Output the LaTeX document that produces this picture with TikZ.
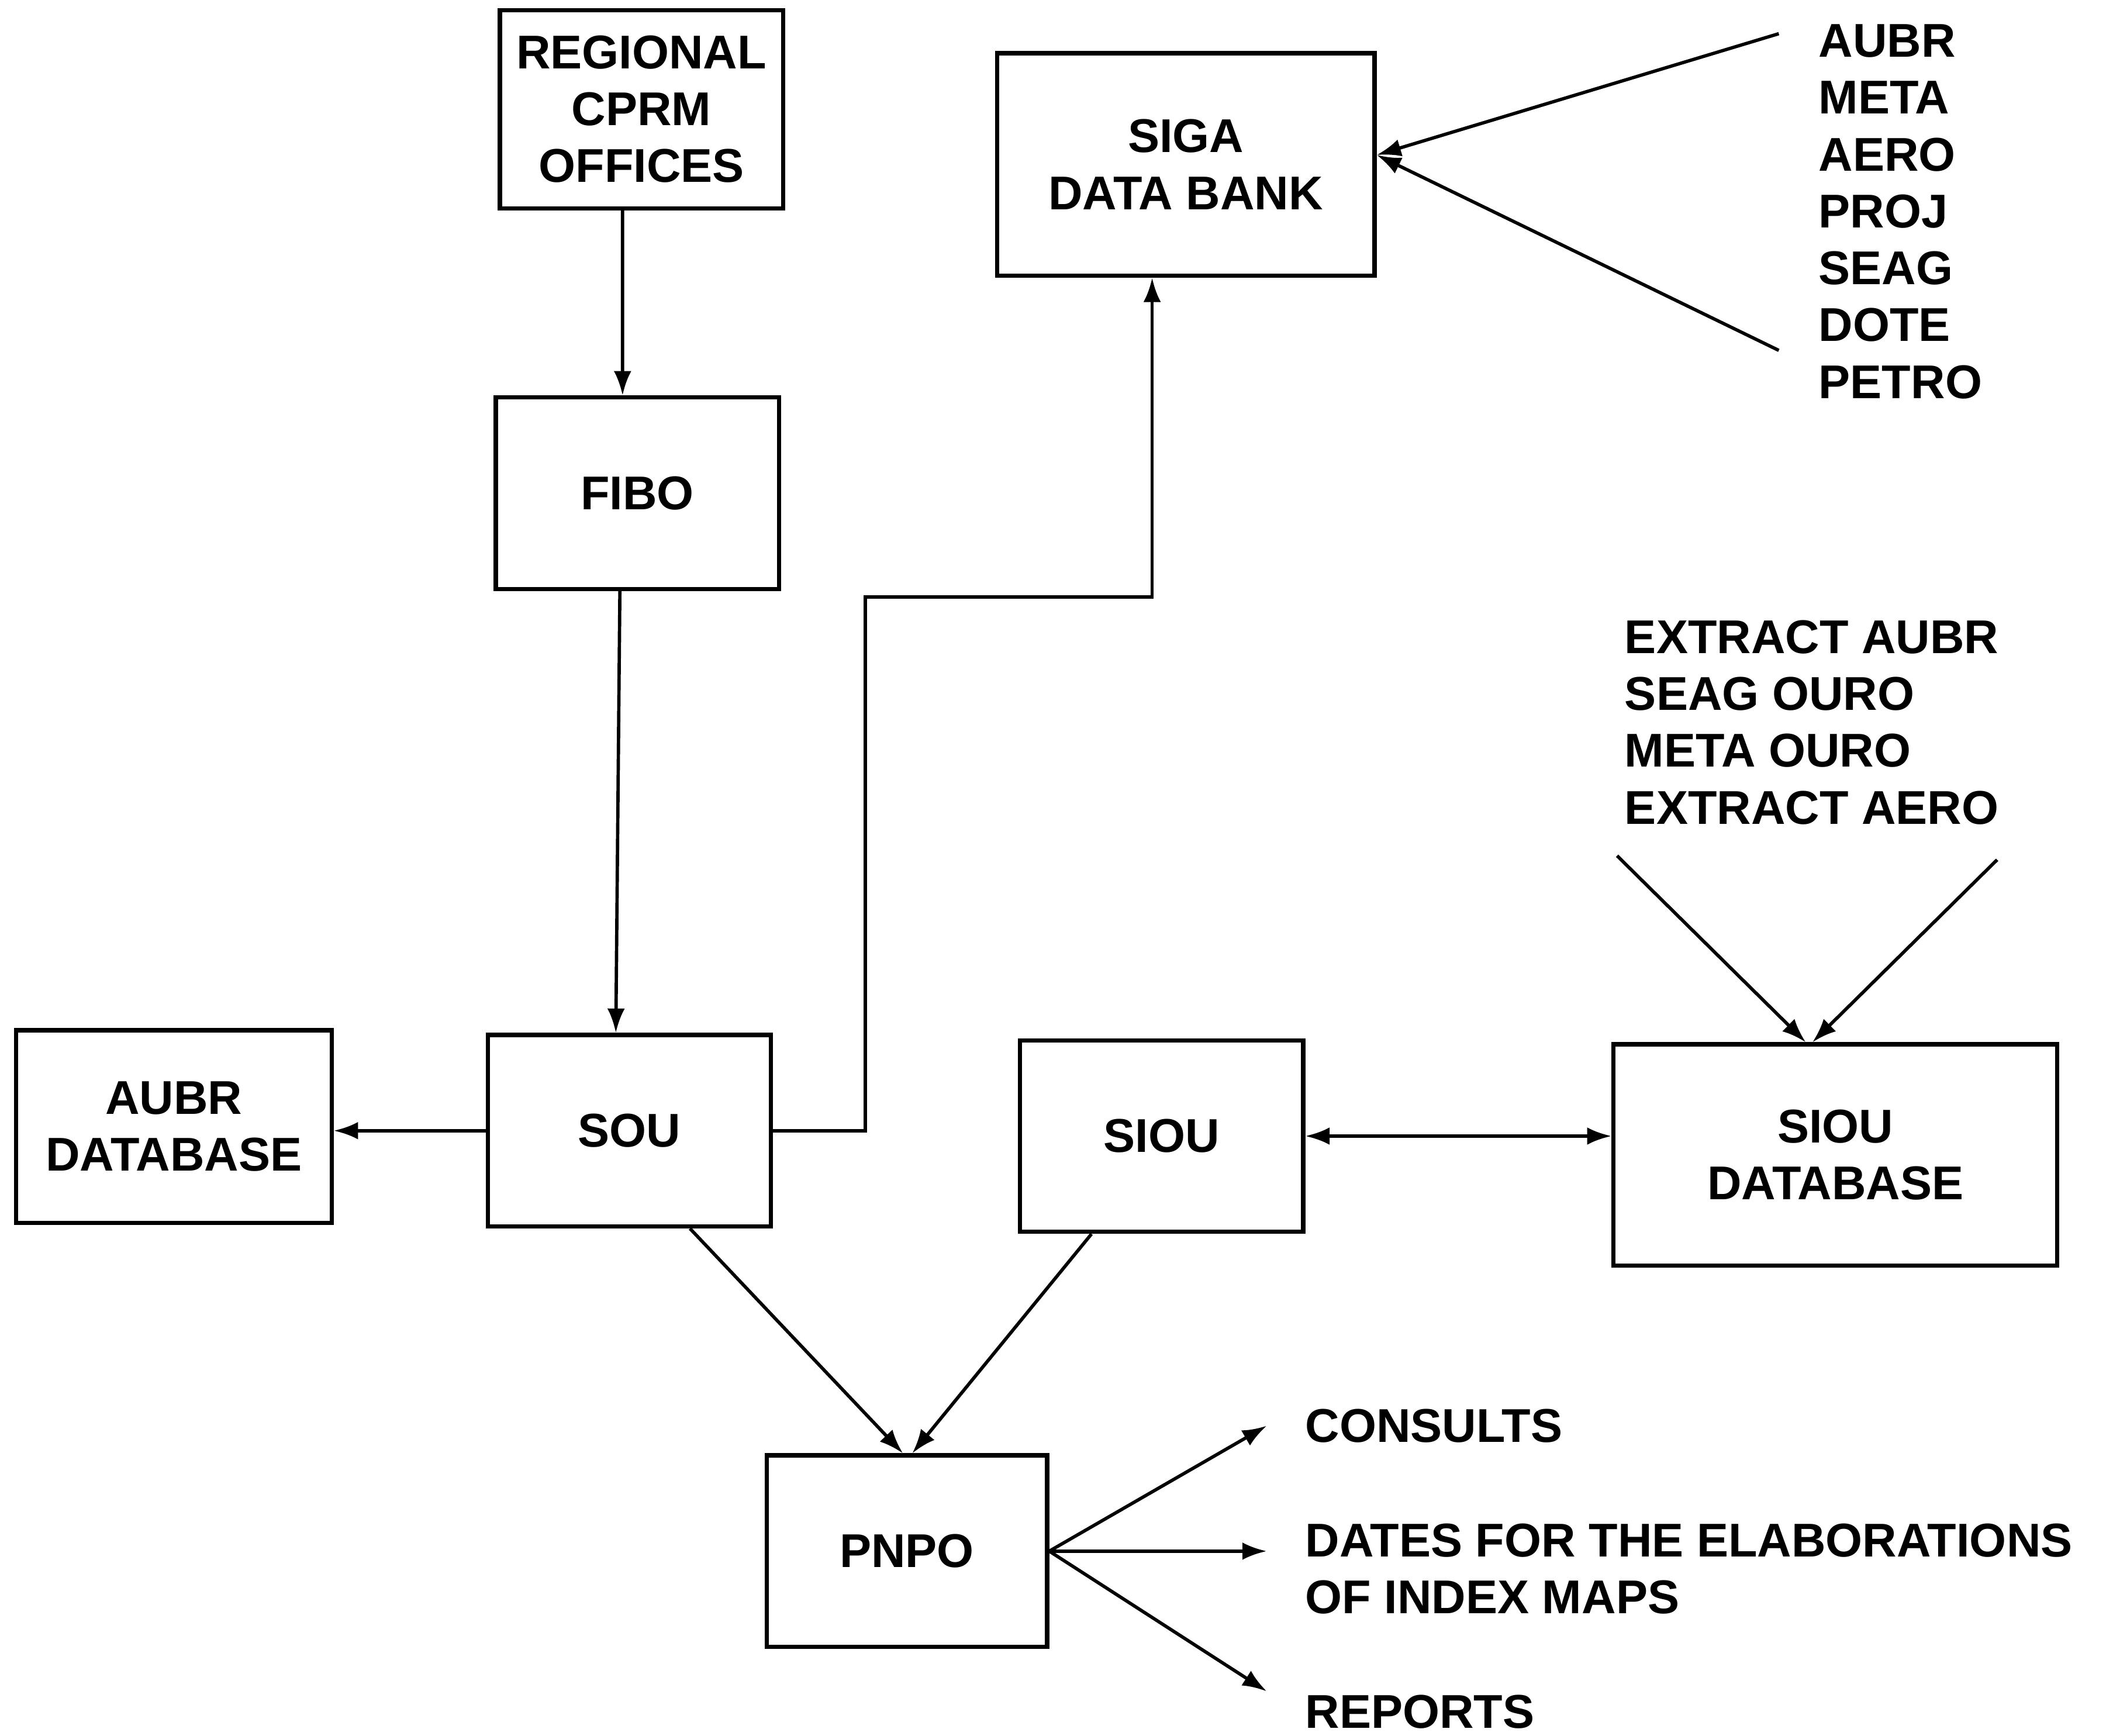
\documentclass[tikz,border=0pt]{standalone}
\usepackage{fontspec}
\setmainfont{Liberation Sans}
\usetikzlibrary{arrows.meta, positioning, calc}

\begin{document}
\begin{tikzpicture}[
    x=0.01cm, y=-0.01cm,
    >={Latex[length=1.8mm, width=1.3mm]},
    font=\bfseries\fontsize{10}{12}\selectfont,
    % Define styles for the different node types
    procbox/.style={rectangle, draw, line width=0.9pt, text centered, align=center, minimum width=2.1cm, minimum height=1.42cm, inner sep=0pt},
    widebox/.style={procbox, minimum width=2.8cm, minimum height=1.65cm},
    listtext/.style={align=left, anchor=west, inner sep=0pt},
    link/.style={line width=0.7pt},
]
\useasboundingbox (0,0) rectangle (1568,1288);

% -------------------------
% Boxes
% -------------------------
\node (regional) [procbox, minimum height=1.47cm] at (476,81) {REGIONAL\\CPRM\\OFFICES};
\node (fibo) [procbox] at (473,366) {FIBO};
\node (siga) [widebox] at (880,122) {SIGA\\DATA BANK};
\node (aubrdb) [procbox, minimum width=2.34cm, minimum height=1.43cm] at (129,836) {AUBR\\DATABASE};
\node (sou) [procbox] at (467,839) {SOU};
\node (siou) [procbox] at (862,843) {SIOU};
\node (sioudb) [widebox, minimum width=3.29cm, minimum height=1.64cm] at (1362,857) {SIOU\\DATABASE};
\node (pnpo) [procbox, minimum width=2.08cm] at (673,1151) {PNPO};

% -------------------------
% Free texts
% -------------------------
\node (sigasrc) [listtext] at (1349,157) {AUBR\\META\\AERO\\PROJ\\SEAG\\DOTE\\PETRO};
\node (extract) [listtext] at (1205,536) {EXTRACT AUBR\\SEAG OURO\\META OURO\\EXTRACT AERO};
\node (consults) [listtext] at (968,1058) {CONSULTS};
\node (dates) [listtext] at (968,1164) {DATES FOR THE ELABORATIONS\\OF INDEX MAPS};
\node (reports) [listtext] at (968,1270) {REPORTS};

% free ends of the input lines
\coordinate (sigasrc_top) at (1320,25);
\coordinate (sigasrc_bot) at (1320,260);
\coordinate (extract_left) at (1200,635);
\coordinate (extract_right) at (1482,638);

% -------------------------
% Arrow Connections
% -------------------------

% Main flow left column
\draw[link, ->] ([xshift=-1.4mm]regional.south) -- ([xshift=-1.1mm]fibo.north);
\draw[link, ->] ([xshift=-1.3mm]fibo.south) -- ([xshift=-1mm]sou.north);
\draw[link, ->] (sou.west) -- (sou.west -| aubrdb.east);

% SOU up to SIGA
\coordinate (sou_bend) at (642,443);
\draw[link, ->] (sou.east) -| (sou_bend) -| ([xshift=-2.5mm]siga.south);

% Sources into SIGA
\draw[link, ->] (sigasrc_top) -- ([yshift=0.7mm]siga.east);
\draw[link, ->] (sigasrc_bot) -- ([yshift=0.7mm]siga.east);

% Sources into SIOU database
\draw[link, ->] (extract_left) -- ([xshift=-2.2mm]sioudb.north);
\draw[link, ->] (extract_right) -- ([xshift=-1.7mm]sioudb.north);

% SIOU <-> database
\draw[link, <->] (siou.east) -- (siou.east -| sioudb.west);

% Into PNPO
\draw[link, ->] ([xshift=4.5mm]sou.south) -- ([xshift=-0.3mm]pnpo.north);
\draw[link, ->] ([xshift=-5.2mm]siou.south) -- ([xshift=0.4mm]pnpo.north);

% PNPO outputs
\coordinate (dates_in) at ([xshift=-2.8mm]dates.west);
\draw[link, ->] (pnpo.east) -- ([xshift=-2.8mm]consults.west);
\draw[link, ->] (pnpo.east) -- (dates_in |- pnpo.east);
\draw[link, ->] (pnpo.east) -- ([xshift=-2.8mm, yshift=1.5mm]reports.west);

\end{tikzpicture}
\end{document}
